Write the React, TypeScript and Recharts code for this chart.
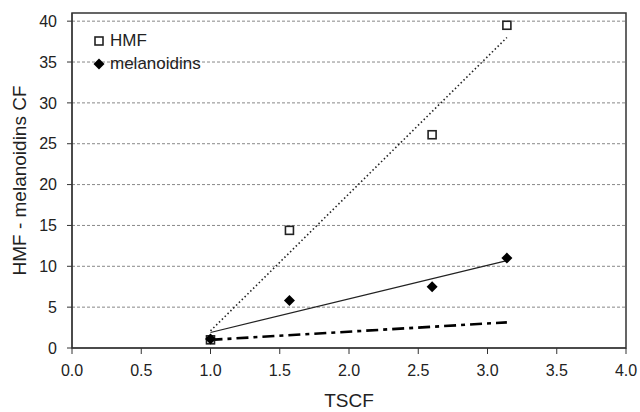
import React from "react"
import {
  ScatterChart,
  Scatter,
  XAxis,
  YAxis,
  CartesianGrid,
  ReferenceArea,
} from "recharts"

// measured points
const hmfPoints = [
  { x: 1.0, y: 1.0 },
  { x: 1.57, y: 14.4 },
  { x: 2.6, y: 26.1 },
  { x: 3.14, y: 39.5 },
]

const melanoidinPoints = [
  { x: 1.0, y: 1.1 },
  { x: 1.57, y: 5.8 },
  { x: 2.6, y: 7.5 },
  { x: 3.14, y: 11.0 },
]

// trend lines, end points
const hmfTrend = [
  { x: 1.0, y: 2.1 },
  { x: 3.14, y: 38.0 },
]

const melanoidinTrend = [
  { x: 1.0, y: 1.9 },
  { x: 3.14, y: 10.7 },
]

const equalityLine = [
  { x: 1.0, y: 1.0 },
  { x: 3.14, y: 3.14 },
]

const xTicks = [0, 0.5, 1, 1.5, 2, 2.5, 3, 3.5, 4]
const yTicks = [0, 5, 10, 15, 20, 25, 30, 35, 40]

const FONT = "'Liberation Sans', Arial, sans-serif"
const INK = "#222"

const Square = (props: any) => {
  const { cx, cy } = props
  if (cx == null || cy == null) return <g />
  return <rect x={cx - 4} y={cy - 4} width={8} height={8} fill="#fff" stroke={INK} strokeWidth={1.6} />
}

const Diamond = (props: any) => {
  const { cx, cy } = props
  if (cx == null || cy == null) return <g />
  const r = 5.5
  return <path d={`M${cx},${cy - r}L${cx + r},${cy}L${cx},${cy + r}L${cx - r},${cy}Z`} fill="#000" />
}

const NoDot = () => <g />

function LegendBox() {
  return (
    <div
      style={{
        position: "absolute",
        left: 92,
        top: 29,
        fontFamily: FONT,
        fontSize: 17,
        color: INK,
        lineHeight: "23px",
      }}
    >
      <div style={{ display: "flex", alignItems: "center" }}>
        <svg width={14} height={14} style={{ marginRight: 4 }}>
          <rect x={3} y={3} width={8} height={8} fill="#fff" stroke={INK} strokeWidth={1.6} />
        </svg>
        HMF
      </div>
      <div style={{ display: "flex", alignItems: "center" }}>
        <svg width={14} height={14} style={{ marginRight: 4 }}>
          <path d="M7,1.5L12.5,7L7,12.5L1.5,7Z" fill="#000" />
        </svg>
        melanoidins
      </div>
    </div>
  )
}

export default function App() {
  return (
    <div style={{ position: "relative", width: 640, height: 412, background: "#fff" }}>
      <style>{`body{margin:0}`}</style>
      <ScatterChart
        width={640}
        height={412}
        margin={{ top: 13, right: 14, left: 0, bottom: 0 }}
        style={{ fontFamily: FONT }}
      >
        <CartesianGrid vertical={false} stroke="#888" strokeDasharray="3 2" horizontalValues={[5, 10, 15, 20, 25, 30, 35, 40]} />
        <XAxis
          type="number"
          dataKey="x"
          domain={[0, 4]}
          ticks={xTicks}
          tickFormatter={(v: number) => v.toFixed(1)}
          height={64}
          tickSize={6}
          tickMargin={11}
          stroke="#333"
          tick={{ fill: INK, fontSize: 16 }}
          label={{ value: "TSCF", position: "insideBottom", offset: 5, fill: INK, fontSize: 19 }}
          allowDataOverflow
        />
        <YAxis
          type="number"
          dataKey="y"
          domain={[0, 41]}
          ticks={yTicks}
          width={72}
          tickSize={5}
          tickMargin={10}
          stroke="#333"
          tick={{ fill: INK, fontSize: 16 }}
          label={{ value: "HMF - melanoidins CF", angle: -90, position: "insideLeft", offset: 19, fill: INK, fontSize: 19, style: { textAnchor: "middle" } }}
          allowDataOverflow
        />
        <ReferenceArea x1={0} x2={4} y1={0} y2={41} fill="none" stroke="#333" strokeWidth={1.5} ifOverflow="visible" />
        <Scatter
          data={hmfTrend}
          line={{ stroke: INK, strokeWidth: 1.6, strokeDasharray: "1.5 2.5" }}
          shape={NoDot}
          legendType="none"
          isAnimationActive={false}
        />
        <Scatter
          data={melanoidinTrend}
          line={{ stroke: INK, strokeWidth: 1.2 }}
          shape={NoDot}
          legendType="none"
          isAnimationActive={false}
        />
        <Scatter
          data={equalityLine}
          line={{ stroke: "#000", strokeWidth: 2.6, strokeDasharray: "12 5 4 5" }}
          shape={NoDot}
          legendType="none"
          isAnimationActive={false}
        />
        <Scatter name="HMF" data={hmfPoints} shape={Square} isAnimationActive={false} />
        <Scatter name="melanoidins" data={melanoidinPoints} shape={Diamond} isAnimationActive={false} />
      </ScatterChart>
      <LegendBox />
    </div>
  )
}
